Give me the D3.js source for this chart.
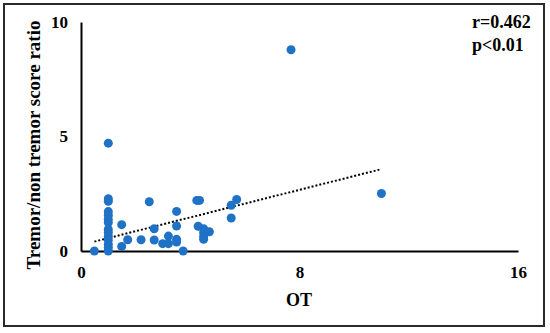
<!DOCTYPE html>
<html>
<head>
<meta charset="utf-8">
<script src="https://cdn.jsdelivr.net/npm/d3@7"></script>
<style>
  body { margin: 0; background: #fff; }
  text { font-family: "Liberation Serif", "Times New Roman", serif; font-weight: bold; }
</style>
</head>
<body>
<svg id="chart" width="550" height="333"></svg>
<script>
// OT values (x) and tremor/non tremor score ratio (y)
const otValues = [
  0.49, 1.0, 1.0, 1.0, 1.0, 1.0, 1.0, 1.0,
  1.0, 1.0, 1.0, 1.0, 1.0, 1.0, 1.0,
  1.49, 1.49, 1.71, 2.2, 2.5, 2.68, 2.68, 2.99, 3.2, 3.2,
  3.5, 3.5, 3.5, 3.5, 3.74, 4.24, 4.34, 4.29, 4.49, 4.49, 4.49, 4.49,
  4.7, 5.5, 5.7, 5.5, 7.69, 11.0
];
const ratioValues = [
  0, 4.71, 2.28, 2.17, 1.72, 1.56, 1.38, 1.24,
  0.94, 0.80, 0.63, 0.48, 0.29, 0.15, 0,
  1.15, 0.2, 0.49, 0.49, 2.15, 0.97, 0.48, 0.32, 0.65, 0.32,
  1.73, 1.09, 0.51, 0.39, 0, 2.21, 2.21, 1.08, 0.97, 0.80, 0.63, 0.51,
  0.84, 2.0, 2.25, 1.44, 8.79, 2.51
];
const xTicks = [0, 8, 16];
const yTicks = [0, 5, 10];
// dotted linear trendline end points
const trendX = [0.49, 10.95];
const trendY = [0.41, 3.56];

const data = otValues.map((v, i) => ({ x: v, y: ratioValues[i] }));

const svg = d3.select("#chart");

// outer frame
svg.append("rect")
  .attr("x", 4).attr("y", 4)
  .attr("width", 540).attr("height", 322)
  .attr("fill", "none")
  .attr("stroke", "#2a2a2a")
  .attr("stroke-width", 2);

const x = d3.scaleLinear().domain([0, 16]).range([81, 518]);
const y = d3.scaleLinear().domain([0, 10]).range([251, 22]);

// X axis
const xAxis = svg.append("g")
  .attr("transform", "translate(0,251)")
  .call(d3.axisBottom(x).tickValues(xTicks).tickSize(0).tickPadding(15).tickFormat(d3.format("d")));
xAxis.select(".domain").attr("stroke", "#000").attr("stroke-width", 2);
xAxis.selectAll("text").style("font-size", "17px").attr("fill", "#000");

// Y axis
const yAxis = svg.append("g")
  .attr("transform", "translate(81,0)")
  .call(d3.axisLeft(y).tickValues(yTicks).tickSize(0).tickPadding(13).tickFormat(d3.format("d")));
yAxis.select(".domain").attr("stroke", "#000").attr("stroke-width", 2);
yAxis.selectAll("text").style("font-size", "17px").attr("fill", "#000");

// trendline
svg.append("line")
  .attr("x1", x(trendX[0])).attr("y1", y(trendY[0]))
  .attr("x2", x(trendX[1])).attr("y2", y(trendY[1]))
  .attr("stroke", "#000")
  .attr("stroke-width", 2)
  .attr("stroke-dasharray", "2,2");

// points
svg.selectAll("circle.pt")
  .data(data)
  .enter()
  .append("circle")
  .attr("class", "pt")
  .attr("cx", d => x(d.x))
  .attr("cy", d => y(d.y))
  .attr("r", 4.5)
  .attr("fill", "#1f72c6");

// axis titles
svg.append("text")
  .attr("x", 299).attr("y", 306)
  .attr("text-anchor", "middle")
  .style("font-size", "18px")
  .text("OT");

svg.append("text")
  .attr("transform", "translate(40,145) rotate(-90)")
  .attr("text-anchor", "middle")
  .style("font-size", "19px")
  .text("Tremor/non tremor score ratio");

// correlation note
svg.append("text")
  .attr("x", 472).attr("y", 28)
  .style("font-size", "18px")
  .text("r=0.462");
svg.append("text")
  .attr("x", 472).attr("y", 51)
  .style("font-size", "18px")
  .text("p<0.01");
</script>
</body>
</html>
